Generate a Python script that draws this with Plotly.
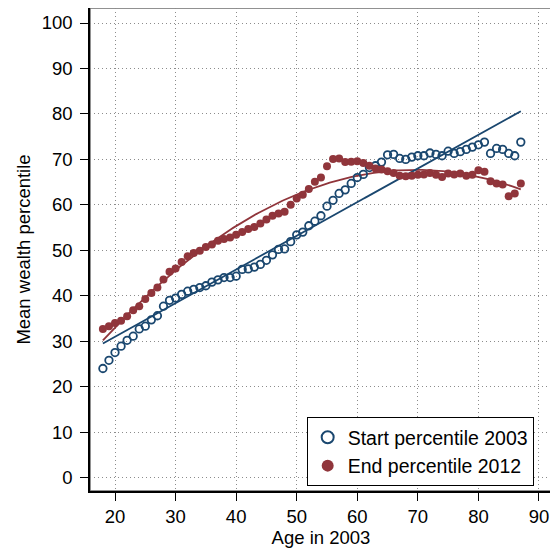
import numpy as np
import plotly.graph_objects as go

ages = [18, 19, 20, 21, 22, 23, 24, 25, 26, 27, 28, 29, 30, 31, 32, 33, 34, 35, 36, 37,
        38, 39, 40, 41, 42, 43, 44, 45, 46, 47, 48, 49, 50, 51, 52, 53, 54, 55, 56, 57,
        58, 59, 60, 61, 62, 63, 64, 65, 66, 67, 68, 69, 70, 71, 72, 73, 74, 75, 76, 77,
        78, 79, 80, 81, 82, 83, 84, 85, 86, 87]

start_2003 = [24.0, 25.8, 27.5, 28.9, 30.2, 31.1, 32.7, 33.3, 34.7, 35.6, 37.7, 39.0, 39.5, 40.3,
              41.0, 41.4, 41.8, 42.2, 43.0, 43.5, 44.0, 44.0, 44.3, 45.8, 45.9, 46.3, 46.9, 47.8,
              49.0, 50.2, 50.3, 51.9, 53.4, 54.0, 55.4, 56.4, 57.6, 59.7, 61.0, 62.5, 63.3, 64.7,
              66.0, 66.7, 68.2, 68.6, 69.4, 71.0, 71.1, 70.2, 70.0, 70.5, 70.8, 70.8, 71.4, 71.1,
              70.8, 71.8, 71.3, 71.7, 72.2, 72.7, 73.2, 73.8, 71.3, 72.4, 72.2, 71.3, 70.8, 73.8]

end_2012 = [32.7, 33.3, 34.0, 34.5, 35.5, 36.8, 37.7, 39.3, 40.6, 41.8, 43.6, 45.3, 46.0, 47.4,
            48.7, 49.4, 49.9, 50.7, 51.3, 52.1, 52.5, 52.8, 53.4, 54.0, 54.7, 55.1, 55.9, 56.8,
            57.6, 58.1, 58.5, 60.0, 61.4, 62.2, 63.5, 65.1, 66.0, 68.5, 70.1, 70.2, 69.4, 69.5,
            69.6, 69.2, 68.6, 68.0, 67.8, 67.4, 67.0, 66.4, 66.3, 66.4, 66.6, 66.7, 67.0, 66.6,
            66.1, 66.9, 66.7, 66.9, 66.4, 66.6, 67.6, 67.3, 65.2, 64.7, 64.5, 61.9, 62.5, 64.7]

x_ticks = [20, 30, 40, 50, 60, 70, 80, 90]
y_ticks = [0, 10, 20, 30, 40, 50, 60, 70, 80, 90, 100]

NAVY = "#1a476f"
MAROON = "#90353b"
FONT = "Liberation Sans, Arial, Helvetica, sans-serif"

a = np.array(ages, dtype=float)
xs = np.linspace(a.min(), a.max(), 200)
lin = np.polyval(np.polyfit(a, np.array(start_2003), 1), xs)
quad = np.polyval(np.polyfit(a, np.array(end_2012), 2), xs)

fig = go.Figure()
fig.add_trace(go.Scatter(x=xs, y=quad, mode="lines", line=dict(color=MAROON, width=1.8),
                         showlegend=False, hoverinfo="skip"))
fig.add_trace(go.Scatter(x=xs, y=lin, mode="lines", line=dict(color=NAVY, width=1.8),
                         showlegend=False, hoverinfo="skip"))
fig.add_trace(go.Scatter(x=ages, y=start_2003, mode="markers", name="Start percentile 2003",
                         marker=dict(symbol="circle-open", size=7.5, color=NAVY,
                                     line=dict(width=1.8, color=NAVY))))
fig.add_trace(go.Scatter(x=ages, y=end_2012, mode="markers", name="End percentile 2012",
                         marker=dict(symbol="circle", size=8, color=MAROON,
                                     line=dict(width=0))))

fig.add_shape(type="rect", xref="paper", yref="paper", x0=0, x1=1, y0=0, y1=1,
              line=dict(color="#6e6e6e", width=1.5), layer="below")

axis_common = dict(showgrid=True, gridcolor="#8c8c8c", griddash="1px,3px", gridwidth=1,
                   zeroline=False, showline=True, linecolor="black", linewidth=1.5,
                   ticks="outside", ticklen=8, tickwidth=1.3, tickcolor="black",
                   automargin=False,
                   tickfont=dict(family=FONT, size=18.5, color="black"))

fig.update_xaxes(range=[15.87, 92.15], tickvals=x_ticks, ticklabelstandoff=0,
                 title=dict(text="Age in 2003", font=dict(family=FONT, size=18.5, color="black"),
                            standoff=0),
                 **axis_common)
fig.update_yaxes(range=[-2.95, 103.3], tickvals=y_ticks, ticklabelstandoff=4,
                 title=dict(text="Mean wealth percentile", font=dict(family=FONT, size=18.5, color="black"),
                            standoff=6),
                 **axis_common)

# the page body adds an 8px margin, so the figure is 8px smaller and shifted
fig.update_layout(
    width=550, height=544,
    margin=dict(l=82, r=6, t=0, b=61),
    plot_bgcolor="white", paper_bgcolor="white",
    showlegend=True,
    legend=dict(x=0.469, y=0.153, xanchor="left", yanchor="top",
                bgcolor="white", bordercolor="black", borderwidth=1,
                font=dict(family=FONT, size=19.5, color="black"),
                itemsizing="constant", tracegroupgap=0, itemwidth=30),
    font=dict(family=FONT, size=18.5, color="black"),
)

fig.write_html("out.html")
